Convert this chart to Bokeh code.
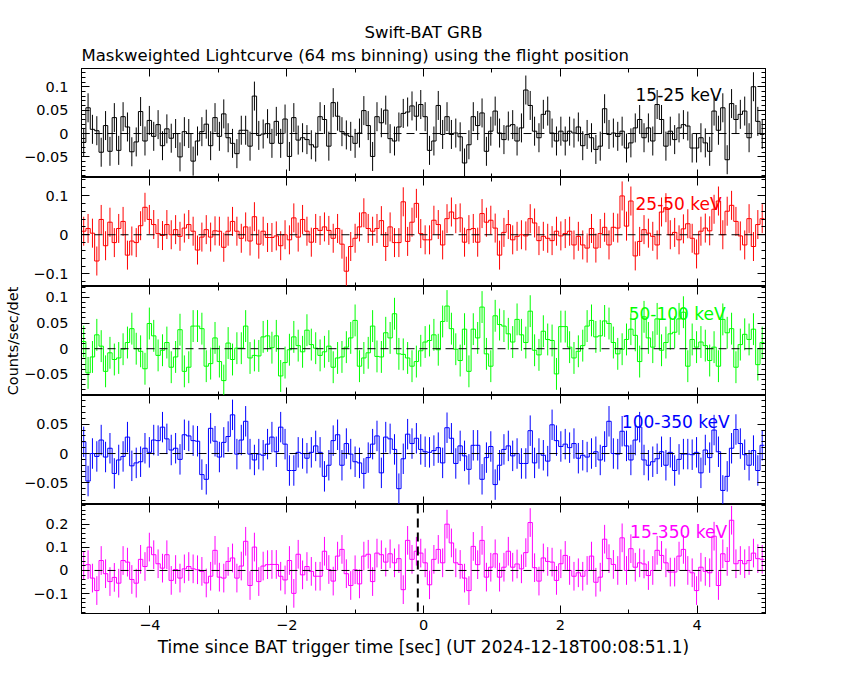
import math
import numpy as np
from bokeh.plotting import figure
from bokeh.layouts import column
from bokeh.models import Range1d, FixedTicker, LinearAxis, CustomJSTickFormatter, Span, Label, Title
from bokeh.embed import file_html
from bokeh.resources import INLINE

# ---------------- data ----------------
T_START = -5.0          # start of first 64 ms bin [s]
BIN_WIDTH = 0.064       # 64 ms binning
TRIGGER_MARK = -0.083   # vertical dashed marker in the bottom panel [s]

BANDS = ["15-25 keV", "25-50 keV", "50-100 keV", "100-350 keV", "15-350 keV"]

RATE_15_25 = [
    -0.019, 0.055, 0.009, 0.006, -0.040, 0.017, -0.038, 0.034, -0.036, 0.036,
    0.014, -0.039, -0.018, 0.047, -0.016, 0.028, -0.006, 0.019, -0.026, 0.010,
    -0.010, 0.000, -0.050, 0.004, 0.000, -0.059, -0.016, 0.004, 0.020, -0.026,
    0.034, -0.006, 0.042, -0.009, -0.021, -0.043, 0.007, 0.007, -0.027, 0.080,
    -0.004, -0.001, 0.021, -0.021, 0.026, -0.021, 0.031, -0.049, 0.034, -0.014,
    -0.009, -0.013, -0.024, -0.029, 0.036, 0.030, -0.027, 0.066, 0.037, 0.004,
    -0.003, -0.006, -0.021, 0.001, 0.049, 0.017, -0.049, 0.036, 0.023, 0.050,
    -0.011, -0.016, 0.014, 0.043, 0.046, 0.059, 0.037, 0.062,
    0.036, -0.036, -0.016, 0.060, -0.002, 0.036, -0.002, 0.001, -0.007, -0.063,
    -0.024, 0.036, 0.017, 0.044, -0.038, 0.005, 0.048, 0.001, -0.013, 0.016,
    0.019, -0.016, 0.012, 0.093, 0.060, 0.005, -0.009, 0.041, 0.048, 0.001,
    -0.016, 0.005, -0.016, 0.005, 0.001, 0.014, -0.026, -0.002, -0.009, -0.034,
    -0.027, 0.053, -0.002, 0.001, -0.006, 0.005, -0.031, -0.020, 0.012, 0.030,
    -0.009, 0.012, -0.016, 0.062, 0.030, -0.027, 0.005, -0.013, 0.012, 0.019,
    0.016, -0.031, -0.031, -0.009, -0.020, -0.038, 0.048, 0.007, 0.055, -0.056,
    0.064, 0.030, 0.041, 0.048, -0.009, 0.100, 0.026, -0.002,
]

RATE_25_50 = [
    0.009, 0.016, 0.004, -0.067, 0.039, -0.028, 0.032, -0.020, 0.016, 0.034,
    -0.052, -0.016, -0.020, 0.023, 0.070, 0.039, 0.026, 0.003, -0.002, 0.026,
    0.000, 0.013, -0.004, 0.017, 0.026, 0.009, -0.039, -0.006, 0.013, -0.006,
    0.010, 0.009, -0.032, 0.009, 0.034, 0.009, -0.009, 0.020, -0.016, 0.046,
    -0.024, 0.009, -0.007, -0.007, -0.003, -0.028, 0.000, -0.013, 0.043, -0.006,
    0.039, 0.009, -0.019, 0.016, 0.011, 0.020, 0.011, -0.009, 0.016, -0.024,
    -0.093, -0.030, -0.009, 0.020, 0.056, 0.016, 0.009, 0.016, 0.036, -0.030,
    0.020, -0.020, -0.020, 0.084, -0.017, 0.032, 0.080, 0.003,
    -0.013, -0.013, 0.037, 0.026, -0.026, 0.041, 0.058, 0.041, 0.043, -0.019,
    0.013, 0.016, -0.019, 0.054, 0.032, 0.037, 0.017, -0.052, 0.006, 0.026,
    -0.013, -0.004, 0.000, -0.003, 0.041, 0.030, -0.015, -0.004, -0.009, -0.015,
    0.009, -0.003, 0.003, 0.009, -0.026, -0.004, -0.026, -0.034, 0.016, -0.034,
    0.003, 0.019, -0.026, 0.019, 0.017, 0.099, 0.022, 0.086, -0.054, -0.017,
    0.013, 0.004, -0.004, -0.026, 0.058, 0.069, 0.000, 0.006, -0.013, 0.015,
    0.028, -0.009, -0.049, 0.009, 0.017, 0.010, 0.065, 0.086, 0.000, 0.060,
    0.075, 0.034, -0.003, -0.026, 0.041, -0.030, 0.026, 0.041,
]

RATE_50_100 = [
    0.014, -0.047, -0.016, 0.027, 0.005, -0.044, -0.008, -0.021, -0.018, -0.001,
    0.012, 0.039, 0.000, -0.005, -0.039, 0.049, 0.025, -0.013, -0.003, 0.012,
    -0.036, -0.016, 0.037, -0.044, -0.036, 0.044, 0.044, 0.039, -0.034, -0.029,
    0.021, -0.025, -0.062, 0.011, -0.021, 0.001, 0.001, 0.044, -0.018, -0.013,
    -0.014, 0.023, 0.025, 0.002, 0.025, -0.053, -0.027, -0.002, 0.023, 0.006,
    -0.006, 0.036, 0.008, 0.001, -0.013, -0.006, 0.005, -0.036, -0.018, -0.016,
    0.003, 0.021, 0.055, -0.034, -0.018, -0.008, 0.044, -0.015, -0.016, 0.031,
    0.021, 0.068, -0.010, -0.011, -0.018, -0.034, -0.025, -0.004,
    0.013, 0.016, 0.027, -0.002, 0.053, 0.083, 0.039, -0.001, -0.023, 0.038,
    -0.044, 0.038, 0.021, 0.081, -0.010, -0.034, 0.064, 0.047, 0.044, 0.029,
    0.013, 0.057, 0.027, 0.012, 0.073, -0.003, -0.012, 0.034, 0.018, 0.016,
    -0.049, 0.043, 0.043, 0.003, -0.018, -0.005, 0.006, 0.044, 0.055, 0.023,
    0.025, 0.054, 0.049, 0.012, -0.010, -0.001, 0.018, 0.038, 0.026, -0.025,
    0.062, 0.021, 0.003, 0.058, -0.003, 0.012, 0.029, 0.032, 0.058, 0.071,
    -0.034, 0.018, 0.003, 0.013, 0.006, -0.023, 0.003, -0.034, 0.057, 0.031,
    0.039, -0.036, 0.008, 0.028, 0.018, 0.038, -0.031, 0.012,
]

RATE_100_350 = [
    0.020, -0.047, 0.000, -0.005, 0.023, -0.006, 0.009, -0.034, -0.011, -0.005,
    0.028, -0.021, -0.016, -0.014, 0.009, 0.002, 0.023, 0.022, 0.045, 0.025,
    0.006, 0.009, -0.010, 0.032, 0.030, 0.022, 0.021, -0.036, -0.044, 0.043,
    0.021, -0.006, 0.019, 0.029, 0.066, -0.001, 0.023, 0.055, -0.001, -0.011,
    -0.001, -0.003, 0.016, 0.028, 0.003, 0.045, 0.016, -0.029, -0.029, 0.002,
    0.000, -0.008, 0.002, 0.013, 0.002, -0.039, -0.020, 0.022, 0.032, -0.020,
    0.017, -0.001, -0.014, -0.016, -0.034, -0.007, 0.016, 0.030, -0.033, 0.028,
    0.025, 0.007, -0.060, -0.009, 0.033, 0.017, 0.026, 0.007,
    0.003, 0.002, 0.005, 0.010, -0.016, 0.044, 0.026, -0.017, 0.013, -0.004,
    -0.027, 0.014, 0.014, -0.044, -0.007, 0.012, -0.053, -0.020, 0.007, 0.013,
    -0.004, 0.000, -0.017, -0.017, 0.039, -0.016, 0.000, -0.003, -0.013, 0.049,
    0.022, 0.012, 0.016, 0.010, 0.017, -0.008, -0.003, -0.006, 0.000, 0.003,
    -0.011, 0.012, 0.055, 0.000, -0.001, 0.038, 0.013, -0.011, 0.023, 0.045,
    -0.011, -0.020, -0.014, -0.009, 0.003, -0.020, 0.002, -0.029, -0.010, -0.001,
    -0.001, -0.002, 0.002, -0.033, 0.006, -0.007, 0.040, 0.003, -0.063, -0.039,
    0.009, 0.041, 0.017, -0.002, -0.020, 0.005, -0.029, 0.014,
]

RATE_15_350 = [
    0.022, 0.025, -0.033, -0.087, 0.043, -0.014, -0.048, -0.030, -0.055, 0.043,
    0.036, -0.039, -0.055, 0.048, 0.017, 0.101, 0.068, 0.029, 0.010, 0.068,
    -0.043, 0.004, -0.033, 0.007, 0.017, 0.007, 0.003, -0.004, -0.054, -0.025,
    0.087, -0.029, -0.033, 0.039, 0.054, -0.033, 0.019, 0.126, -0.065, 0.101,
    -0.048, 0.019, 0.025, 0.026, 0.026, -0.025, -0.041, 0.043, -0.099, 0.070,
    -0.019, 0.017, -0.004, -0.025, -0.025, 0.083, 0.004, -0.046, 0.062, 0.091,
    -0.014, -0.065, 0.003, -0.058, 0.062, 0.070, -0.048, 0.075, 0.068, 0.036,
    0.072, 0.033, 0.051, -0.083, 0.130, 0.048, 0.083, 0.075,
    0.033, -0.062, 0.048, 0.091, 0.033, 0.200, 0.119, 0.033, 0.026, -0.033,
    -0.087, 0.104, 0.025, 0.130, -0.029, 0.014, 0.072, -0.029, 0.014, 0.083,
    0.014, 0.028, 0.007, 0.077, 0.207, 0.012, -0.046, 0.054, 0.039, 0.036,
    -0.043, 0.029, 0.065, 0.000, -0.025, -0.010, -0.025, 0.000, 0.062, -0.051,
    -0.029, 0.135, 0.051, 0.026, 0.000, 0.141, 0.000, 0.094, 0.014, 0.033,
    0.028, -0.022, 0.000, 0.087, 0.065, 0.033, -0.007, -0.007, 0.062, 0.091,
    0.000, -0.010, -0.087, 0.014, -0.004, -0.010, 0.148, -0.065, 0.072, 0.039,
    0.217, 0.029, 0.043, 0.029, 0.043, 0.075, 0.051, 0.048,
]

ERRORS = [0.031, 0.037, 0.031, 0.026, 0.062]   # typical 1-sigma error per band
RATES = [RATE_15_25, RATE_25_50, RATE_50_100, RATE_100_350, RATE_15_350]

Y_MAJOR_TICKS = [[-0.05, 0, 0.05, 0.1], [-0.1, 0, 0.1], [-0.05, 0, 0.05, 0.1],
                 [-0.05, 0, 0.05], [-0.1, 0, 0.1, 0.2]]
X_MAJOR_TICKS = [-4, -2, 0, 2, 4]
X_MINOR_TICKS = [-5, -3, -1, 1, 3, 5]

# ---------------- style / layout ----------------
COLORS = ["#000000", "#ff0000", "#00ff00", "#0000ff", "#ff00ff"]
Y_RANGES = [(-0.094, 0.139), (-0.132, 0.146), (-0.091, 0.121), (-0.087, 0.099), (-0.186, 0.285)]
Y_MINOR_STEP = [0.01, 0.02, 0.01, 0.01, 0.02]
LABEL_POS = [(3.1, 0.082), (3.1, 0.078), (3.0, 0.067), (2.9, 0.053), (3.02, 0.167)]
FONT = "DejaVu Sans"
LEFT, RIGHT, FRAME_W, FRAME_H = 81, 50, 684, 109
TOP0, BOTTOM4 = 68, 56

NUM_FMT = r"""
if (Math.abs(tick) < 1e-9) { return '0'; }
var s = String(Math.round(tick * 1000) / 1000);
return s.replace('-', '\u2212');
"""


def style_axis(ax, show_labels):
    ax.major_tick_in = 8
    ax.major_tick_out = 0
    ax.minor_tick_in = 4
    ax.minor_tick_out = 0
    ax.axis_line_color = "black"
    ax.major_tick_line_color = "black"
    ax.minor_tick_line_color = "black"
    if show_labels:
        ax.formatter = CustomJSTickFormatter(code=NUM_FMT)
        ax.major_label_text_font = FONT
        ax.major_label_text_font_size = "14.5px"
        ax.major_label_text_color = "black"
    else:
        ax.formatter = CustomJSTickFormatter(code="return '';")
        ax.major_label_text_font_size = "0px"
        ax.major_label_standoff = 0


x_range = Range1d(-5, 5)
figs = []
for i in range(5):
    top = TOP0 if i == 0 else 0
    bottom = BOTTOM4 if i == 4 else 0
    lo, hi = Y_RANGES[i]
    p = figure(width=LEFT + FRAME_W + RIGHT, height=FRAME_H + top + bottom,
               x_range=x_range, y_range=Range1d(lo, hi),
               x_axis_location=None, y_axis_location=None, title=None,
               output_backend="svg", toolbar_location=None,
               min_border_left=LEFT, min_border_right=RIGHT,
               min_border_top=top, min_border_bottom=bottom)
    p.grid.visible = False
    p.outline_line_color = "black"
    p.outline_line_width = 1
    p.background_fill_color = "white"
    p.border_fill_color = "white"

    step = Y_MINOR_STEP[i]
    minor = [round(k * step, 3) for k in range(math.ceil(lo / step), math.floor(hi / step) + 1)]
    yt = FixedTicker(ticks=Y_MAJOR_TICKS[i], minor_ticks=minor)
    xt = FixedTicker(ticks=X_MAJOR_TICKS, minor_ticks=X_MINOR_TICKS)

    left = LinearAxis(ticker=yt)
    style_axis(left, True)
    left.major_label_standoff = 13
    right = LinearAxis(ticker=yt)
    style_axis(right, False)
    below = LinearAxis(ticker=xt)
    style_axis(below, i == 4)
    above = LinearAxis(ticker=xt)
    style_axis(above, False)

    if i == 2:
        left.axis_label = "Counts/sec/det"
        left.axis_label_text_font = FONT
        left.axis_label_text_font_size = "14.5px"
        left.axis_label_text_font_style = "normal"
        left.axis_label_text_color = "black"
        left.axis_label_standoff = 0
    if i == 4:
        below.major_label_standoff = 6
        below.axis_label = "Time since BAT trigger time [sec] (UT 2024-12-18T00:08:51.1)"
        below.axis_label_text_font = FONT
        below.axis_label_text_font_size = "17px"
        below.axis_label_text_font_style = "normal"
        below.axis_label_text_color = "black"
        below.axis_label_standoff = 4

    p.add_layout(left, "left")
    p.add_layout(right, "right")
    p.add_layout(below, "below")
    p.add_layout(above, "above")

    if i == 0:
        p.add_layout(Title(text="Maskweighted Lightcurve (64 ms binning) using the flight position",
                           align="left", text_font=FONT, text_font_size="16.5px",
                           text_font_style="normal", text_color="black", standoff=7), "above")
        p.add_layout(Title(text="Swift-BAT GRB", align="center", text_font=FONT,
                           text_font_size="16.5px", text_font_style="normal",
                           text_color="black", standoff=-2), "above")

    vals = np.array(RATES[i], dtype=float)
    n = len(vals)
    edges = T_START + BIN_WIDTH * np.arange(n + 1)
    centers = T_START + BIN_WIDTH * (np.arange(n) + 0.5)
    err = ERRORS[i]
    color = COLORS[i]

    p.add_layout(Span(location=0, dimension="width", line_color="black",
                      line_dash="8 5", line_width=1))
    p.segment(x0=centers, y0=vals - err, x1=centers, y1=vals + err,
              line_color=color, line_width=1)
    p.step(x=edges, y=np.append(vals, vals[-1]), mode="after",
           line_color=color, line_width=1)

    if i == 4:
        p.add_layout(Span(location=TRIGGER_MARK, dimension="height", line_color="black",
                          line_dash="9 5", line_width=2))

    lx, ly = LABEL_POS[i]
    p.add_layout(Label(x=lx, y=ly, text=BANDS[i], text_color=color, text_font=FONT,
                       text_font_size="17px", text_baseline="middle", text_align="left"))
    figs.append(p)

layout = column(*figs, spacing=0)
open("out.html", "w", encoding="utf-8").write(file_html(layout, INLINE))
